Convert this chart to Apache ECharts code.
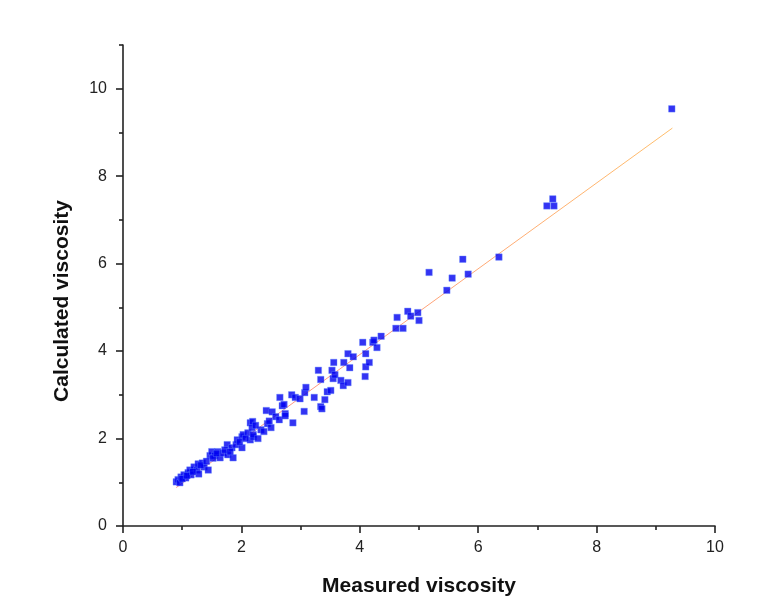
<!DOCTYPE html>
<html>
<head>
<meta charset="utf-8">
<script src="https://cdn.jsdelivr.net/npm/echarts@6/dist/echarts.min.js"></script>
<style>
  html, body { margin: 0; padding: 0; background: #fff; }
  #main { width: 766px; height: 608px; }
</style>
</head>
<body>
<div id="main"></div>
<script>
// measured vs calculated viscosity
var measured = [0.90, 0.93, 0.96, 0.98, 1.03, 1.06, 1.10, 1.13, 1.15, 1.20, 1.25, 1.28, 1.27, 1.34, 1.37, 1.44,
  1.47, 1.50, 1.55, 1.60, 1.64, 1.69, 1.77, 1.76, 1.86, 1.84, 1.91, 1.93, 2.01, 2.01, 2.03, 2.11, 2.15, 2.15,
  2.18, 2.19, 2.20, 2.20, 2.28, 2.33, 2.38, 2.42, 2.44, 2.50, 2.52, 2.58, 2.64, 2.65, 2.69, 2.72, 2.74, 2.74,
  2.85, 2.87, 2.91, 2.99, 3.06, 3.07, 3.09, 3.23, 3.30, 3.34, 3.34, 3.36, 3.41, 3.45, 3.51, 3.53, 3.55, 3.56,
  3.58, 3.68, 3.72, 3.73, 3.80, 3.80, 3.83, 3.89, 4.05, 4.09, 4.10, 4.10, 4.16, 4.22, 4.24, 4.29, 4.36, 4.61,
  4.63, 4.73, 4.81, 4.86, 4.98, 5.00, 5.17, 5.47, 5.56, 5.74, 5.83, 6.35, 7.16, 7.26, 7.28, 9.27,
  1.00, 1.08, 1.18, 1.31, 1.41, 1.52, 1.58, 1.72, 1.81, 1.97, 2.07, 2.24, 2.47];
var calculated = [1.01, 1.06, 0.99, 1.12, 1.17, 1.10, 1.22, 1.28, 1.17, 1.35, 1.28, 1.19, 1.42, 1.44, 1.35, 1.28,
  1.61, 1.70, 1.61, 1.70, 1.56, 1.67, 1.63, 1.86, 1.56, 1.79, 1.86, 1.97, 2.04, 1.79, 2.09, 2.13, 1.97, 2.36,
  2.25, 2.39, 2.04, 2.09, 2.00, 2.20, 2.16, 2.64, 2.34, 2.25, 2.61, 2.50, 2.43, 2.94, 2.75, 2.78, 2.57, 2.52,
  3.00, 2.36, 2.94, 2.91, 2.62, 3.05, 3.17, 2.94, 3.56, 3.35, 2.73, 2.68, 2.89, 3.07, 3.10, 3.56, 3.37, 3.74,
  3.46, 3.33, 3.21, 3.74, 3.28, 3.94, 3.62, 3.87, 4.20, 3.42, 3.64, 3.94, 3.74, 4.20, 4.25, 4.08, 4.34, 4.52,
  4.77, 4.52, 4.91, 4.80, 4.88, 4.70, 5.80, 5.39, 5.67, 6.10, 5.76, 6.15, 7.32, 7.48, 7.32, 9.54,
  1.08, 1.15, 1.24, 1.39, 1.48, 1.55, 1.66, 1.74, 1.70, 1.92, 2.00, 2.30, 2.40];

// fitted line end points
var fitX = [0.9, 9.28];
var fitY = [0.88, 9.1];

var xTicks = [0, 2, 4, 6, 8, 10];
var yTicks = [0, 2, 4, 6, 8, 10];
var yMinor = [1, 3, 5, 7, 9, 11];

var points = measured.map(function (v, i) { return [v, calculated[i]]; });
var fit = fitX.map(function (v, i) { return [v, fitY[i]]; });

var axisColor = '#222';
var labelStyle = { fontFamily: 'Liberation Sans', fontSize: 16, color: '#222' };
var nameStyle = { fontFamily: 'Liberation Sans', fontSize: 21, fontWeight: 'bold', color: '#111' };

var myChart = echarts.init(document.getElementById('main'));
var option = {
  backgroundColor: '#fff',
  animation: false,
  grid: { left: 123, right: 51, top: 45, bottom: 82 },
  xAxis: {
    type: 'value',
    min: 0, max: 10, interval: 2,
    name: 'Measured viscosity',
    nameLocation: 'middle',
    nameGap: 50,
    nameTextStyle: nameStyle,
    axisLine: { lineStyle: { color: axisColor, width: 1.6 } },
    axisTick: { length: 7, lineStyle: { color: axisColor, width: 1.6 } },
    minorTick: { show: true, splitNumber: 2, length: 4, lineStyle: { color: axisColor, width: 1.6 } },
    axisLabel: Object.assign({ margin: 14, customValues: xTicks }, labelStyle),
    splitLine: { show: false }
  },
  yAxis: [{
    type: 'value',
    min: 0, max: 11,
    name: 'Calculated viscosity',
    nameLocation: 'middle',
    nameGap: 50,
    nameTextStyle: Object.assign({ padding: [0, 31, 0, 0] }, nameStyle),
    axisLine: { show: true, lineStyle: { color: axisColor, width: 1.6 } },
    axisTick: { show: true, length: 7, customValues: yTicks, lineStyle: { color: axisColor, width: 1.6 } },
    axisLabel: Object.assign({ margin: 16, customValues: yTicks }, labelStyle),
    splitLine: { show: false }
  }, {
    type: 'value',
    position: 'left',
    min: 0, max: 11,
    axisLine: { show: false },
    axisTick: { show: true, length: 4, customValues: yMinor, lineStyle: { color: axisColor, width: 1.6 } },
    axisLabel: { show: false },
    splitLine: { show: false }
  }],
  series: [{
    type: 'line',
    data: fit,
    symbol: 'none',
    z: 1,
    lineStyle: {
      width: 1,
      color: new echarts.graphic.LinearGradient(0, 0, 1, 0, [
        { offset: 0, color: '#ff8a8a' },
        { offset: 0.45, color: '#ffa07a' },
        { offset: 1, color: '#ffbe6a' }
      ])
    }
  }, {
    type: 'scatter',
    data: points,
    symbol: 'rect',
    symbolSize: 6.5,
    z: 2,
    itemStyle: { color: '#0000f0', borderColor: '#6a8cff', borderWidth: 0.5 }
  }]
};
myChart.setOption(option);
</script>
</body>
</html>
